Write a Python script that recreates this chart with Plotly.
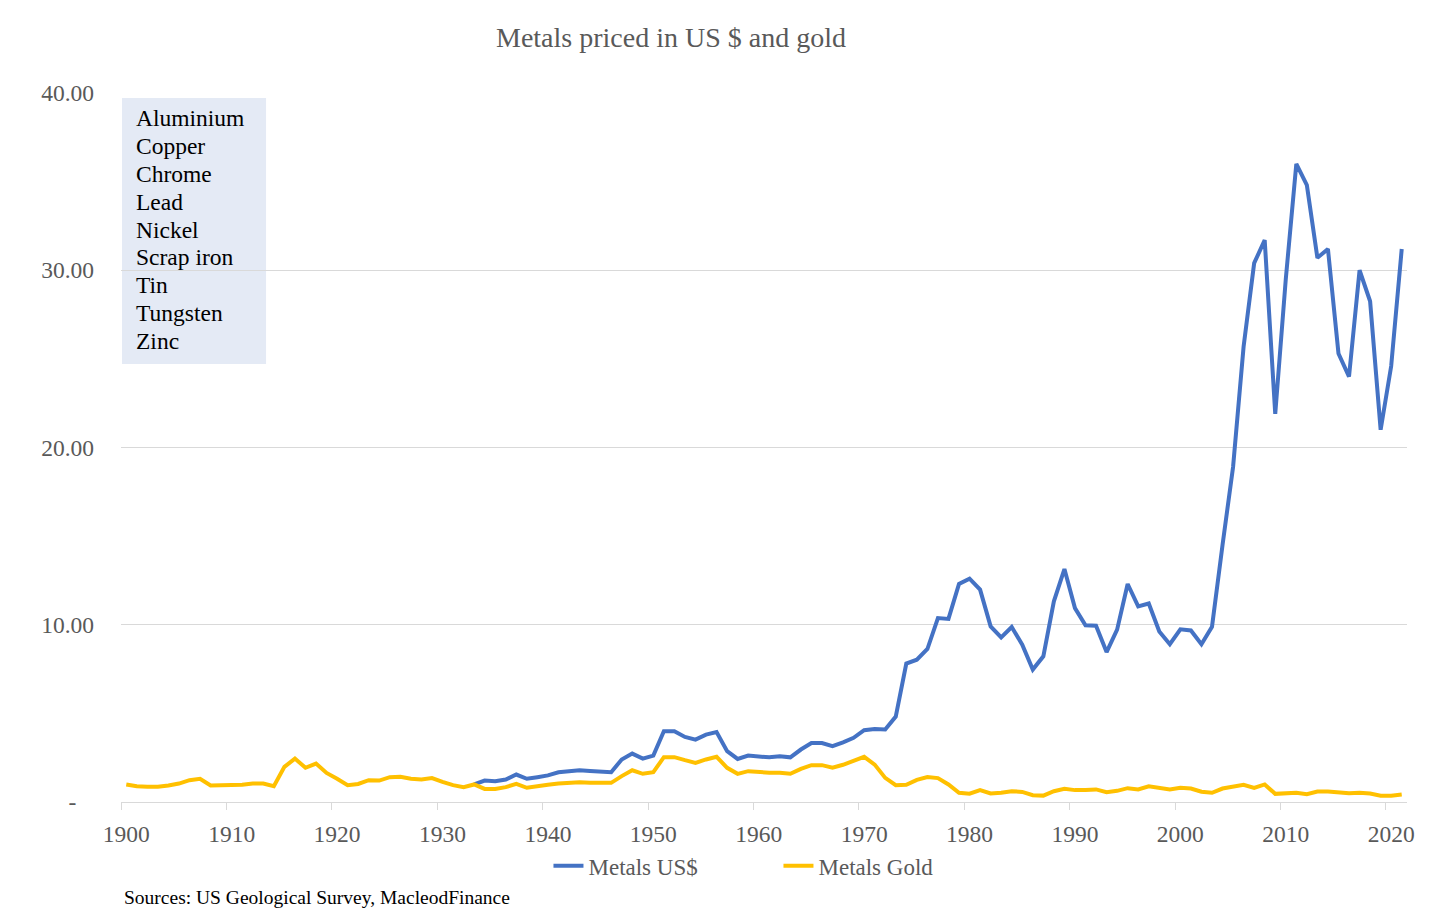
import plotly.graph_objects as go

years = list(range(1900, 2022))

gold = [0.99, 0.89, 0.86, 0.86, 0.93, 1.04, 1.23, 1.31, 0.93, 0.93,
        0.97, 0.97, 1.04, 1.04, 0.89, 1.98, 2.45, 1.93, 2.17, 1.64,
        1.31, 0.95, 1.02, 1.23, 1.21, 1.40, 1.42, 1.31, 1.27, 1.35,
        1.14, 0.95, 0.84, 0.99, 0.74, 0.74, 0.84, 1.02, 0.80, 0.86,
        0.97, 1.04, 1.08, 1.12, 1.08, 1.08, 1.08, 1.46, 1.79, 1.59,
        1.68, 2.53, 2.53, 2.36, 2.21, 2.40, 2.55, 1.93, 1.59, 1.74,
        1.68, 1.65, 1.65, 1.59, 1.87, 2.08, 2.08, 1.94, 2.10, 2.30,
        2.55, 2.11, 1.36, 0.95, 0.97, 1.25, 1.41, 1.35, 0.99, 0.52,
        0.47, 0.67, 0.48, 0.52, 0.61, 0.57, 0.38, 0.36, 0.61, 0.74,
        0.67, 0.67, 0.71, 0.55, 0.63, 0.78, 0.71, 0.89, 0.78, 0.71,
        0.80, 0.76, 0.58, 0.52, 0.76, 0.85, 0.97, 0.79, 0.99, 0.46,
        0.50, 0.52, 0.44, 0.59, 0.59, 0.53, 0.50, 0.52, 0.48, 0.35,
        0.35, 0.42]

usd = [None] * 33 + [
        0.99, 1.21, 1.17, 1.27, 1.55, 1.31, 1.40,
        1.50, 1.68, 1.75, 1.79, 1.75, 1.72, 1.68, 2.40, 2.73, 2.45,
        2.62, 3.99, 3.99, 3.67, 3.52, 3.80, 3.95, 2.87, 2.43, 2.62,
        2.58, 2.52, 2.58, 2.52, 2.96, 3.33, 3.33, 3.15, 3.37, 3.62,
        4.05, 4.12, 4.09, 4.82, 7.81, 8.03, 8.63, 10.38, 10.33, 12.30,
        12.60, 11.98, 9.91, 9.29, 9.87, 8.88, 7.47, 8.22, 11.32, 13.14,
        10.94, 9.97, 9.95, 8.46, 9.72, 12.30, 11.04, 11.20, 9.62, 8.90,
        9.74, 9.68, 8.90, 9.88, 14.50, 18.90, 25.70, 30.40, 31.70, 21.90,
        29.50, 36.00, 34.80, 30.70, 31.20, 25.30, 24.00, 30.00, 28.25, 21.00,
        24.60, 31.20]

ytick_vals = [0, 10, 20, 30, 40]
ytick_text = ["-\u00a0\u00a0\u00a0", "10.00", "20.00", "30.00", "40.00"]
xtick_vals = list(range(1900, 2021, 10))
metals = ["Aluminium", "Copper", "Chrome", "Lead", "Nickel",
          "Scrap iron", "Tin", "Tungsten", "Zinc"]

FONT = "Liberation Serif"
GREY = "#595959"
GRID = "#D9D9D9"

fig = go.Figure()
fig.add_trace(go.Scatter(x=years, y=usd, mode="lines", name="Metals US$",
                         line=dict(color="#4472C4", width=4),
                         connectgaps=False))
fig.add_trace(go.Scatter(x=years, y=gold, mode="lines", name="Metals Gold",
                         line=dict(color="#FFC000", width=4)))

fig.update_layout(
    width=1448, height=912,
    margin=dict(l=113, r=49, t=85, b=118),
    paper_bgcolor="white", plot_bgcolor="white",
    font=dict(family=FONT, color=GREY, size=23),
    showlegend=True,
    legend=dict(orientation="h", x=0.3324, xanchor="left", y=-0.09,
                yanchor="middle", font=dict(size=23, color=GREY),
                entrywidth=185, entrywidthmode="pixels",
                bgcolor="rgba(0,0,0,0)"),
    xaxis=dict(range=[1899.5, 2021.5], tickmode="array", tickvals=xtick_vals,
               ticks="", showgrid=False, zeroline=False,
               showline=True, linecolor=GRID, linewidth=1,
               tickfont=dict(size=23.5, color=GREY), ticklabelstandoff=11,
               minor=dict(tickmode="array",
                          tickvals=[v - 0.5 for v in xtick_vals],
                          ticks="outside", ticklen=7, tickcolor=GRID,
                          tickwidth=1, showgrid=False)),
    yaxis=dict(range=[0, 40], tickmode="array", tickvals=ytick_vals,
               ticktext=ytick_text, showgrid=True, gridcolor=GRID,
               gridwidth=1, zeroline=False, showline=False, ticks="",
               tickfont=dict(size=23.5, color=GREY), ticklabelstandoff=26),
)

fig.add_shape(type="rect", xref="paper", yref="paper",
              x0=0.0008, x1=0.1128, y0=0.6178, y1=0.993,
              fillcolor="#E4EAF5", line=dict(width=0), layer="below")

# metal list, one line each, ~27.9 px apart
for i, m in enumerate(metals):
    ypix = 118 + 27.9 * i
    fig.add_annotation(text=m, xref="paper", yref="paper",
                       x=0.010, y=(802 - ypix) / 709, xanchor="left",
                       yanchor="middle", align="left", showarrow=False,
                       font=dict(family=FONT, size=23.5, color="black"))

fig.add_annotation(text="Metals priced in US $ and gold", xref="paper",
                   yref="paper", x=0.428, y=1.0776, xanchor="center",
                   yanchor="middle", showarrow=False,
                   font=dict(family=FONT, size=28, color=GREY))

fig.add_annotation(text="Sources: US Geological Survey, MacleodFinance",
                   xref="paper", yref="paper", x=0.0008, y=-0.1354,
                   xanchor="left", yanchor="middle", showarrow=False,
                   font=dict(family=FONT, size=19.5, color="black"))

fig.write_html("out.html")
